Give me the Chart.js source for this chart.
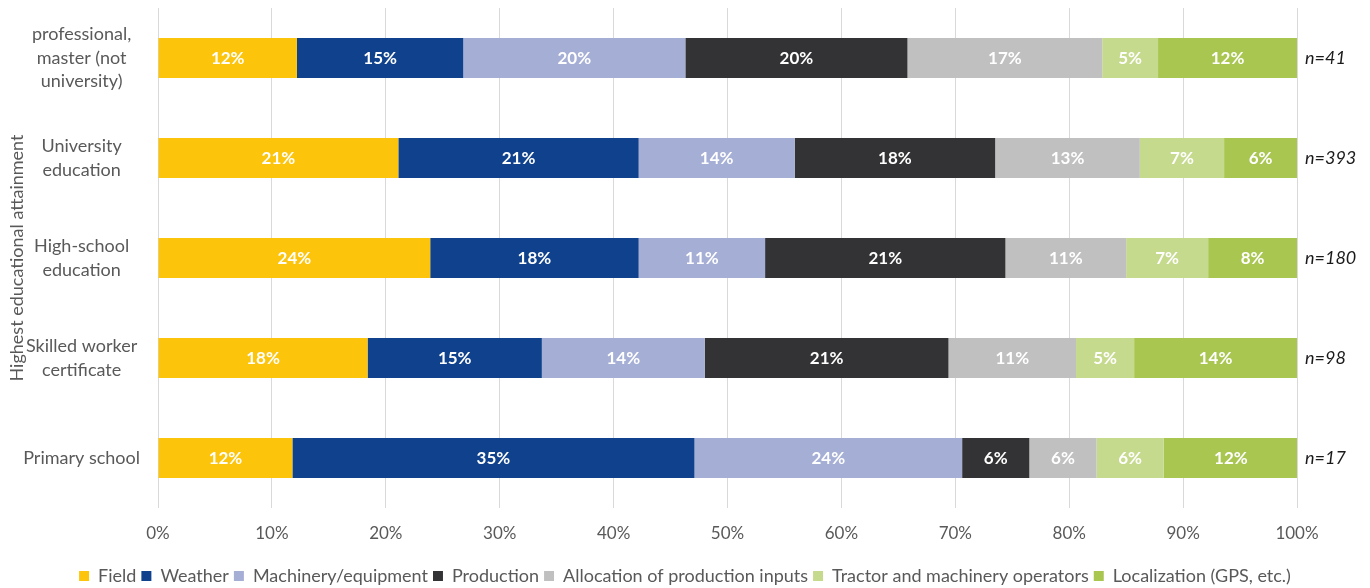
<!DOCTYPE html>
<html>
<head>
<meta charset="utf-8">
<script src="https://cdn.jsdelivr.net/npm/chart.js@4.4.0/dist/chart.umd.min.js"></script>
<style>
    html, body { margin: 0; padding: 0; background: #fff; overflow: hidden; }
    .chart-box { width: 1370px; height: 588px; position: relative; }
</style>
</head>
<body>
<div class="chart-box"><canvas id="attainment-chart"></canvas></div>
<script>
// --- Data (shares in %) ---
const categories = [
    ['professional,', 'master (not', 'university)'],
    ['University', 'education'],
    ['High-school', 'education'],
    ['Skilled worker', 'certificate'],
    'Primary school'
];
const sampleSizes = ['n=41', 'n=393', 'n=180', 'n=98', 'n=17'];

const field        = [12.2, 21.1, 23.9, 18.4, 11.8];
const weather      = [14.6, 21.1, 18.3, 15.3, 35.3];
const machinery    = [19.5, 13.7, 11.1, 14.3, 23.5];
const production   = [19.5, 17.6, 21.1, 21.4, 5.9];
const allocation   = [17.1, 12.7, 10.6, 11.2, 5.9];
const tractorOps   = [4.9, 7.4, 7.2, 5.1, 5.9];
const localization = [12.2, 6.4, 7.8, 14.3, 11.8];

const xTicks = [0, 10, 20, 30, 40, 50, 60, 70, 80, 90, 100];

const seriesNames = ['Field', 'Weather', 'Machinery/equipment', 'Production',
    'Allocation of production inputs', 'Tractor and machinery operators', 'Localization (GPS, etc.)'];
const seriesValues = [field, weather, machinery, production, allocation, tractorOps, localization];
const seriesColors = ['#FDC40C', '#0F418C', '#A5AED5', '#333335', '#C0C0C0', '#C5DA8C', '#A9C651'];

const FONT = 'Lato, "Open Sans", sans-serif';
const GREY_TEXT = '#595959';

// draws the rounded % label in the middle of each segment
const segmentLabels = {
    id: 'segmentLabels',
    afterDatasetsDraw(chart) {
        const ctx = chart.ctx;
        ctx.save();
        ctx.font = 'bold 17px ' + FONT;
        ctx.fillStyle = '#ffffff';
        ctx.textAlign = 'center';
        ctx.textBaseline = 'middle';
        chart.data.datasets.forEach((ds, i) => {
            const meta = chart.getDatasetMeta(i);
            meta.data.forEach((bar, j) => {
                const p = bar.getCenterPoint();
                ctx.fillText(Math.round(ds.data[j]) + '%', p.x, p.y + 1);
            });
        });
        ctx.restore();
    }
};

// keep the category axes from shrinking because of the 3-line label
function noInnerPadding(scale) {
    scale.paddingTop = 0;
    scale.paddingBottom = 0;
}

const ctx = document.getElementById('attainment-chart').getContext('2d');
new Chart(ctx, {
    type: 'bar',
    data: {
        labels: categories,
        datasets: seriesNames.map((name, i) => ({
            label: name,
            data: seriesValues[i],
            backgroundColor: seriesColors[i],
            borderWidth: 0,
            barPercentage: 0.4,
            categoryPercentage: 1.0,
            yAxisID: 'y'
        }))
    },
    options: {
        indexAxis: 'y',
        responsive: true,
        maintainAspectRatio: false,
        animation: false,
        layout: { padding: { top: 8, left: 0, right: 0, bottom: -7 } },
        scales: {
            x: {
                stacked: true,
                min: 0,
                max: 100,
                afterBuildTicks: (scale) => { scale.ticks = xTicks.map(v => ({ value: v })); },
                ticks: {
                    callback: (v) => v + '%',
                    color: GREY_TEXT,
                    font: { family: FONT, size: 17 },
                    padding: 15,
                    maxRotation: 0
                },
                grid: { color: '#D9D9D9', lineWidth: 1, drawTicks: false },
                border: { display: false },
                afterFit: (scale) => { scale.height = 54; }
            },
            y: {
                stacked: true,
                position: 'left',
                ticks: {
                    color: GREY_TEXT,
                    font: { family: FONT, size: 18, lineHeight: 1.3 },
                    crossAlign: 'center',
                    padding: 18
                },
                grid: { display: false, drawTicks: false },
                border: { display: false },
                title: {
                    display: true,
                    text: 'Highest educational attainment',
                    color: GREY_TEXT,
                    font: { family: FONT, size: 18 },
                    padding: { top: 6, bottom: 0 }
                },
                afterFit: (scale) => { scale.width = 158; noInnerPadding(scale); }
            },
            y2: {
                type: 'category',
                position: 'right',
                labels: sampleSizes,
                offset: true,
                ticks: {
                    color: '#1A1A1A',
                    font: { family: FONT, size: 18, style: 'italic' },
                    crossAlign: 'near',
                    padding: 8
                },
                grid: { display: false, drawTicks: false },
                border: { display: false },
                afterFit: (scale) => { scale.width = 73; noInnerPadding(scale); }
            }
        },
        plugins: {
            legend: {
                position: 'bottom',
                labels: {
                    color: GREY_TEXT,
                    font: { family: FONT, size: 18 },
                    boxWidth: 10,
                    boxHeight: 10,
                    padding: 5
                }
            },
            tooltip: { enabled: false }
        }
    },
    plugins: [segmentLabels]
});
</script>
</body>
</html>
